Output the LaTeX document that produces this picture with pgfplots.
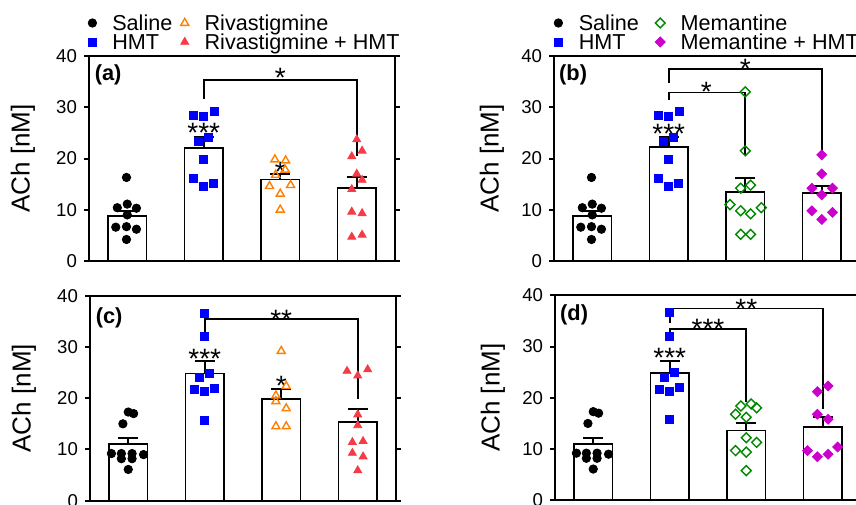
\documentclass[border=0pt]{standalone}
\usepackage{fontspec}
\setmainfont{Liberation Sans}
\usepackage{pgfplots}
\pgfplotsset{compat=1.18}

\definecolor{hmtblue}{RGB}{0,0,255}
\definecolor{rivaorange}{RGB}{255,128,0}
\definecolor{rhred}{RGB}{245,60,70}
\definecolor{memgreen}{RGB}{0,135,0}
\definecolor{mhmag}{RGB}{204,0,204}

\pgfplotsset{
  panel/.style={
    scale only axis, width=153pt, height=102.5pt,
    anchor=south west, clip=false,
    xmin=0.5, xmax=4.5, ymin=0, ymax=40,
    xtick=\empty, ytick={0,10,20,30,40},
    axis line style={line width=1pt},
    tick align=outside, major tick length=2.5pt,
    ytick style={line width=1pt, black},
    tick label style={font=\fontsize{9.3}{10}\selectfont},
    /pgf/number format/assume math mode=true,
    ylabel={ACh [nM]},
    label style={font=\fontsize{13}{14}\selectfont},
    ylabel style={anchor=center, rotate=0},
    legend columns=2,
    legend style={draw=none, fill=none, inner sep=0pt, outer sep=0pt,
      font=\fontsize{10.8}{11}\selectfont,
      nodes={inner sep=0pt, text height=7.8pt, text depth=0pt},
      row sep=1.7pt, anchor=south west},
    legend cell align=left,
    legend image code/.code={\path (0pt,0pt) (8pt,0pt); \draw[##1] plot coordinates {(4pt,0pt)};},
  },
  bars/.style={ybar, bar width=0.5, fill=white, draw=black, line width=0.85pt, forget plot,
    error bars/.cd, y dir=plus, y explicit,
    error mark=|,
    error bar style={line width=1pt},
    error mark options={line width=1pt, mark size=5pt}},
  sal/.style={only marks, mark=*, black, mark size=2.1pt},
  hmt/.style={only marks, mark=square*, hmtblue, mark size=2pt},
  riva/.style={only marks, mark=triangle, rivaorange, mark size=2.3pt, mark options={line width=0.7pt}},
  rh/.style={only marks, mark=triangle*, rhred, mark size=2.3pt},
  mem/.style={only marks, mark=square, memgreen, mark size=1.75pt, mark options={rotate=45, line width=0.7pt}},
  mh/.style={only marks, mark=square*, mhmag, mark size=1.75pt, mark options={rotate=45}},
  sig/.style={black, line width=0.8pt, mark=none, forget plot},
}
\tikzset{
  stars/.style={font=\fontsize{14}{14}\selectfont, anchor=base, yshift=-8.2pt, inner sep=0pt},
  plabel/.style={font=\fontsize{10.9}{11}\selectfont\bfseries, inner sep=0pt},
}

\begin{document}
\begin{tikzpicture}
\useasboundingbox (0,0) rectangle (428pt,252pt);
\clip (0,0) rectangle (428pt,252pt);

% ---------------- (a)
\begin{axis}[panel, at={(44.5pt,121.5pt)},
  ylabel style={at={(axis description cs:-0.2157,0.5)}},
  legend style={at={(axis description cs:0,1)}, xshift=-2.5pt, yshift=3.1pt,
    /tikz/every odd column/.style={column sep=5.75pt},
    /tikz/every even column/.style={column sep=2pt}}]
\addlegendimage{sal}\addlegendentry{Saline}
\addlegendimage{riva}\addlegendentry{Rivastigmine}
\addlegendimage{hmt}\addlegendentry{HMT}
\addlegendimage{rh}\addlegendentry{Rivastigmine + HMT}
\addplot[bars] coordinates {(1,8.8) +- (0,0.95) (2,22.1) +- (0,2.0) (3,15.9) +- (0,1.1) (4,14.3) +- (0,2.15)};
\addplot[sal, forget plot] coordinates {(0.87,10.4)(1.0,11.1)(1.12,10.3)(1.0,9.0)(0.85,6.6)(0.99,6.7)(1.12,6.2)(0.99,4.2)(0.99,16.3)};
\addplot[hmt, forget plot] coordinates {(1.86,28.4)(2.0,28.2)(2.135,29.1)(1.93,23.3)(2.065,24.1)(2.0,19.8)(1.86,16.2)(2.0,14.6)(2.13,15.2)};
\addplot[riva, forget plot] coordinates {(2.93,19.8)(3.07,19.6)(3.065,17.8)(2.94,16.8)(2.86,14.6)(3.135,14.8)(3.0,13.1)(3.0,10.0)};
\addplot[rh, forget plot] coordinates {(4.0,23.7)(3.935,20.4)(4.07,21.5)(4.0,17.0)(4.07,15.8)(3.935,14.0)(3.935,9.6)(4.07,9.3)(3.935,4.7)(4.07,5.1)};
\addplot[sig] coordinates {(2,31.7)(2,35.3)(4,35.3)(4,20.4)};
\node[stars] at (axis cs:3,37.1) {*};
\node[stars] at (axis cs:2,26.3) {***};
\node[stars] at (axis cs:3,18.7) {*};
\node[plabel] at (axis cs:0.75,36.3) {(a)};
\end{axis}

% ---------------- (b)
\begin{axis}[panel, at={(277pt,121.5pt)},
  ylabel style={at={(axis description cs:-0.2026,0.5)}},
  legend style={at={(axis description cs:0,1)}, xshift=-2pt, yshift=3.1pt,
    /tikz/every odd column/.style={column sep=6pt},
    /tikz/every even column/.style={column sep=6.5pt}}]
\addlegendimage{sal}\addlegendentry{Saline}
\addlegendimage{mem}\addlegendentry{Memantine}
\addlegendimage{hmt}\addlegendentry{HMT}
\addlegendimage{mh}\addlegendentry{Memantine + HMT}
\addplot[bars] coordinates {(1,8.8) +- (0,0.95) (2,22.2) +- (0,2.0) (3,13.4) +- (0,2.7) (4,13.3) +- (0,1.4)};
\addplot[sal, forget plot] coordinates {(0.87,10.4)(1.0,11.1)(1.12,10.3)(1.0,9.0)(0.85,6.6)(0.99,6.7)(1.12,6.2)(0.99,4.2)(0.99,16.3)};
\addplot[hmt, forget plot] coordinates {(1.86,28.4)(2.0,28.2)(2.135,29.1)(1.93,23.3)(2.065,24.1)(2.0,19.8)(1.86,16.2)(2.0,14.6)(2.13,15.2)};
\addplot[mem, forget plot] coordinates {(3.0,33.0)(3.0,21.5)(2.94,14.2)(3.07,14.8)(2.8,11.0)(2.94,9.8)(3.07,9.2)(3.21,10.4)(2.94,5.2)(3.07,5.2)};
\addplot[mh, forget plot] coordinates {(4.0,20.7)(4.0,17.0)(3.87,14.2)(4.14,14.2)(4.0,12.9)(3.87,9.8)(4.14,9.5)(4.0,8.1)};
\addplot[sig] coordinates {(2,31.4)(2,32.9)(3,32.9)(3,20.7)};
\addplot[sig] coordinates {(2,34.7)(2,37.5)(4,37.5)(4,21.0)};
\node[stars] at (axis cs:2.49,34.3) {*};
\node[stars] at (axis cs:3.0,38.9) {*};
\node[stars] at (axis cs:2,26.1) {***};
\node[plabel] at (axis cs:0.75,36.3) {(b)};
\end{axis}

% ---------------- (c)
\begin{axis}[panel, at={(45pt,1.65pt)},
  ylabel style={at={(axis description cs:-0.2157,0.5)}}]
\addplot[bars] coordinates {(1,11.0) +- (0,1.2) (2,24.8) +- (0,2.4) (3,19.8) +- (0,1.9) (4,15.4) +- (0,2.4)};
\addplot[sal, forget plot] coordinates {(1.0,17.3)(1.07,17.0)(0.93,15.0)(0.78,9.2)(0.91,9.2)(1.05,9.2)(1.2,9.0)(0.91,8.2)(1.05,8.2)(1.0,6.1)};
\addplot[hmt, forget plot] coordinates {(2.0,36.6)(2.0,32.0)(1.93,24.0)(2.065,24.9)(1.86,21.7)(2.0,21.3)(2.13,22.0)(2.0,15.75)};
\addplot[riva, forget plot] coordinates {(3.0,29.2)(3.065,22.35)(2.93,20.5)(2.93,19.4)(3.065,18.0)(2.93,14.5)(3.065,14.5)};
\addplot[rh, forget plot] coordinates {(3.86,25.3)(4.0,24.4)(4.13,25.6)(4.0,16.8)(4.0,14.7)(3.93,11.4)(4.07,11.6)(3.93,9.3)(4.07,8.6)(4.0,5.9)};
\addplot[sig] coordinates {(2,31.5)(2,35.4)(4,35.4)(4,19.9)};
\node[stars] at (axis cs:3,36.7) {**};
\node[stars] at (axis cs:2,29.0) {***};
\node[stars] at (axis cs:3,23.8) {*};
\node[plabel] at (axis cs:0.75,35.75) {(c)};
\end{axis}

% ---------------- (d)
\begin{axis}[panel, at={(277.5pt,1.85pt)},
  ylabel style={at={(axis description cs:-0.2026,0.5)}}]
\addplot[bars] coordinates {(1,11.0) +- (0,1.2) (2,24.8) +- (0,2.4) (3,13.6) +- (0,1.5) (4,14.3) +- (0,1.9)};
\addplot[sal, forget plot] coordinates {(1.0,17.3)(1.07,17.0)(0.93,15.0)(0.78,9.2)(0.91,9.2)(1.05,9.2)(1.2,9.0)(0.91,8.2)(1.05,8.2)(1.0,6.1)};
\addplot[hmt, forget plot] coordinates {(2.0,36.6)(2.0,32.0)(1.93,24.0)(2.065,24.9)(1.86,21.7)(2.0,21.3)(2.13,22.0)(2.0,15.75)};
\addplot[mem, forget plot] coordinates {(2.93,18.4)(3.065,18.8)(3.135,18.05)(2.86,16.8)(3.0,16.2)(3.0,12.2)(3.135,11.3)(2.86,9.7)(3.0,9.4)(3.0,5.8)};
\addplot[mh, forget plot] coordinates {(3.93,21.2)(4.07,22.3)(3.93,16.8)(4.07,15.8)(3.8,9.7)(3.93,8.5)(4.07,9.0)(4.195,10.4)};
\addplot[sig] coordinates {(2,34.5)(2,37.4)(4,37.4)(4,17.8)};
\addplot[sig] coordinates {(2,31.6)(2,33.4)(3,33.4)(3,19.2)};
\node[stars] at (axis cs:3,38.7) {**};
\node[stars] at (axis cs:2.5,34.8) {***};
\node[stars] at (axis cs:2,29.2) {***};
\node[plabel] at (axis cs:0.75,36.1) {(d)};
\end{axis}
\end{tikzpicture}
\end{document}
